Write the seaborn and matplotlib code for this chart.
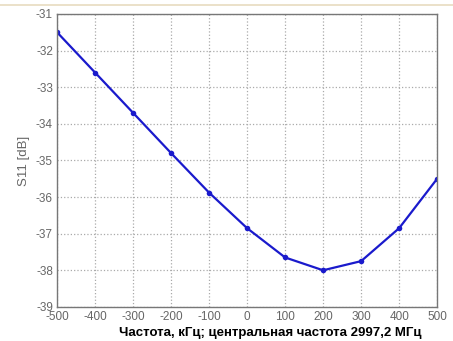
import numpy as np
import pandas as pd
import matplotlib
matplotlib.use('Agg')
import matplotlib.pyplot as plt
import seaborn as sns
from matplotlib.lines import Line2D

# Dados
freq_khz = [-500, -400, -300, -200, -100, 0, 100, 200, 300, 400, 500]
s11_db = [-31.5, -32.6, -33.7, -34.8, -35.88, -36.85, -37.65, -38.0, -37.75, -36.85, -35.5]
x_ticks = [-500, -400, -300, -200, -100, 0, 100, 200, 300, 400, 500]
y_ticks = [-39, -38, -37, -36, -35, -34, -33, -32, -31]

df = pd.DataFrame({'freq': freq_khz, 's11': s11_db})

sns.set_style('white')
plt.rcParams['font.family'] = ['Liberation Sans', 'DejaVu Sans']

fig = plt.figure(figsize=(4.53, 3.41), dpi=100)
ax = fig.add_axes([0.126, 0.1, 0.839, 0.859])

sns.lineplot(data=df, x='freq', y='s11', ax=ax, color='#1a1acc', linewidth=1.6,
             marker='o', markersize=4, markeredgewidth=0)

ax.set_xlim(-500, 500)
ax.set_ylim(-39, -31)
ax.set_xticks(x_ticks)
ax.set_yticks(y_ticks)
ax.set_xticklabels([str(v) for v in x_ticks])
ax.set_yticklabels([str(v) for v in y_ticks])
ax.grid(True, linestyle=':', color='#aaaaaa', linewidth=0.9)
ax.tick_params(direction='in', length=3, color='#555555', labelcolor='#666666',
               labelsize=8.5, pad=3)
for s in ax.spines.values():
    s.set_color('#777777')
    s.set_linewidth(1.0)

ax.set_xlabel('')
ax.set_ylabel('S11 [dB]', color='#666666', fontsize=9.5, labelpad=4)

fig.text(0.596, 0.022, 'Частота, кГц; центральная частота 2997,2 МГц',
         ha='center', va='center', fontsize=9.5, fontweight='bold', color='black')

# linha de recorte do documento no topo
fig.add_artist(Line2D([0, 1], [0.985, 0.985], color='#e8dcc0', linewidth=1.2))

fig.savefig('out.png', dpi=100)
